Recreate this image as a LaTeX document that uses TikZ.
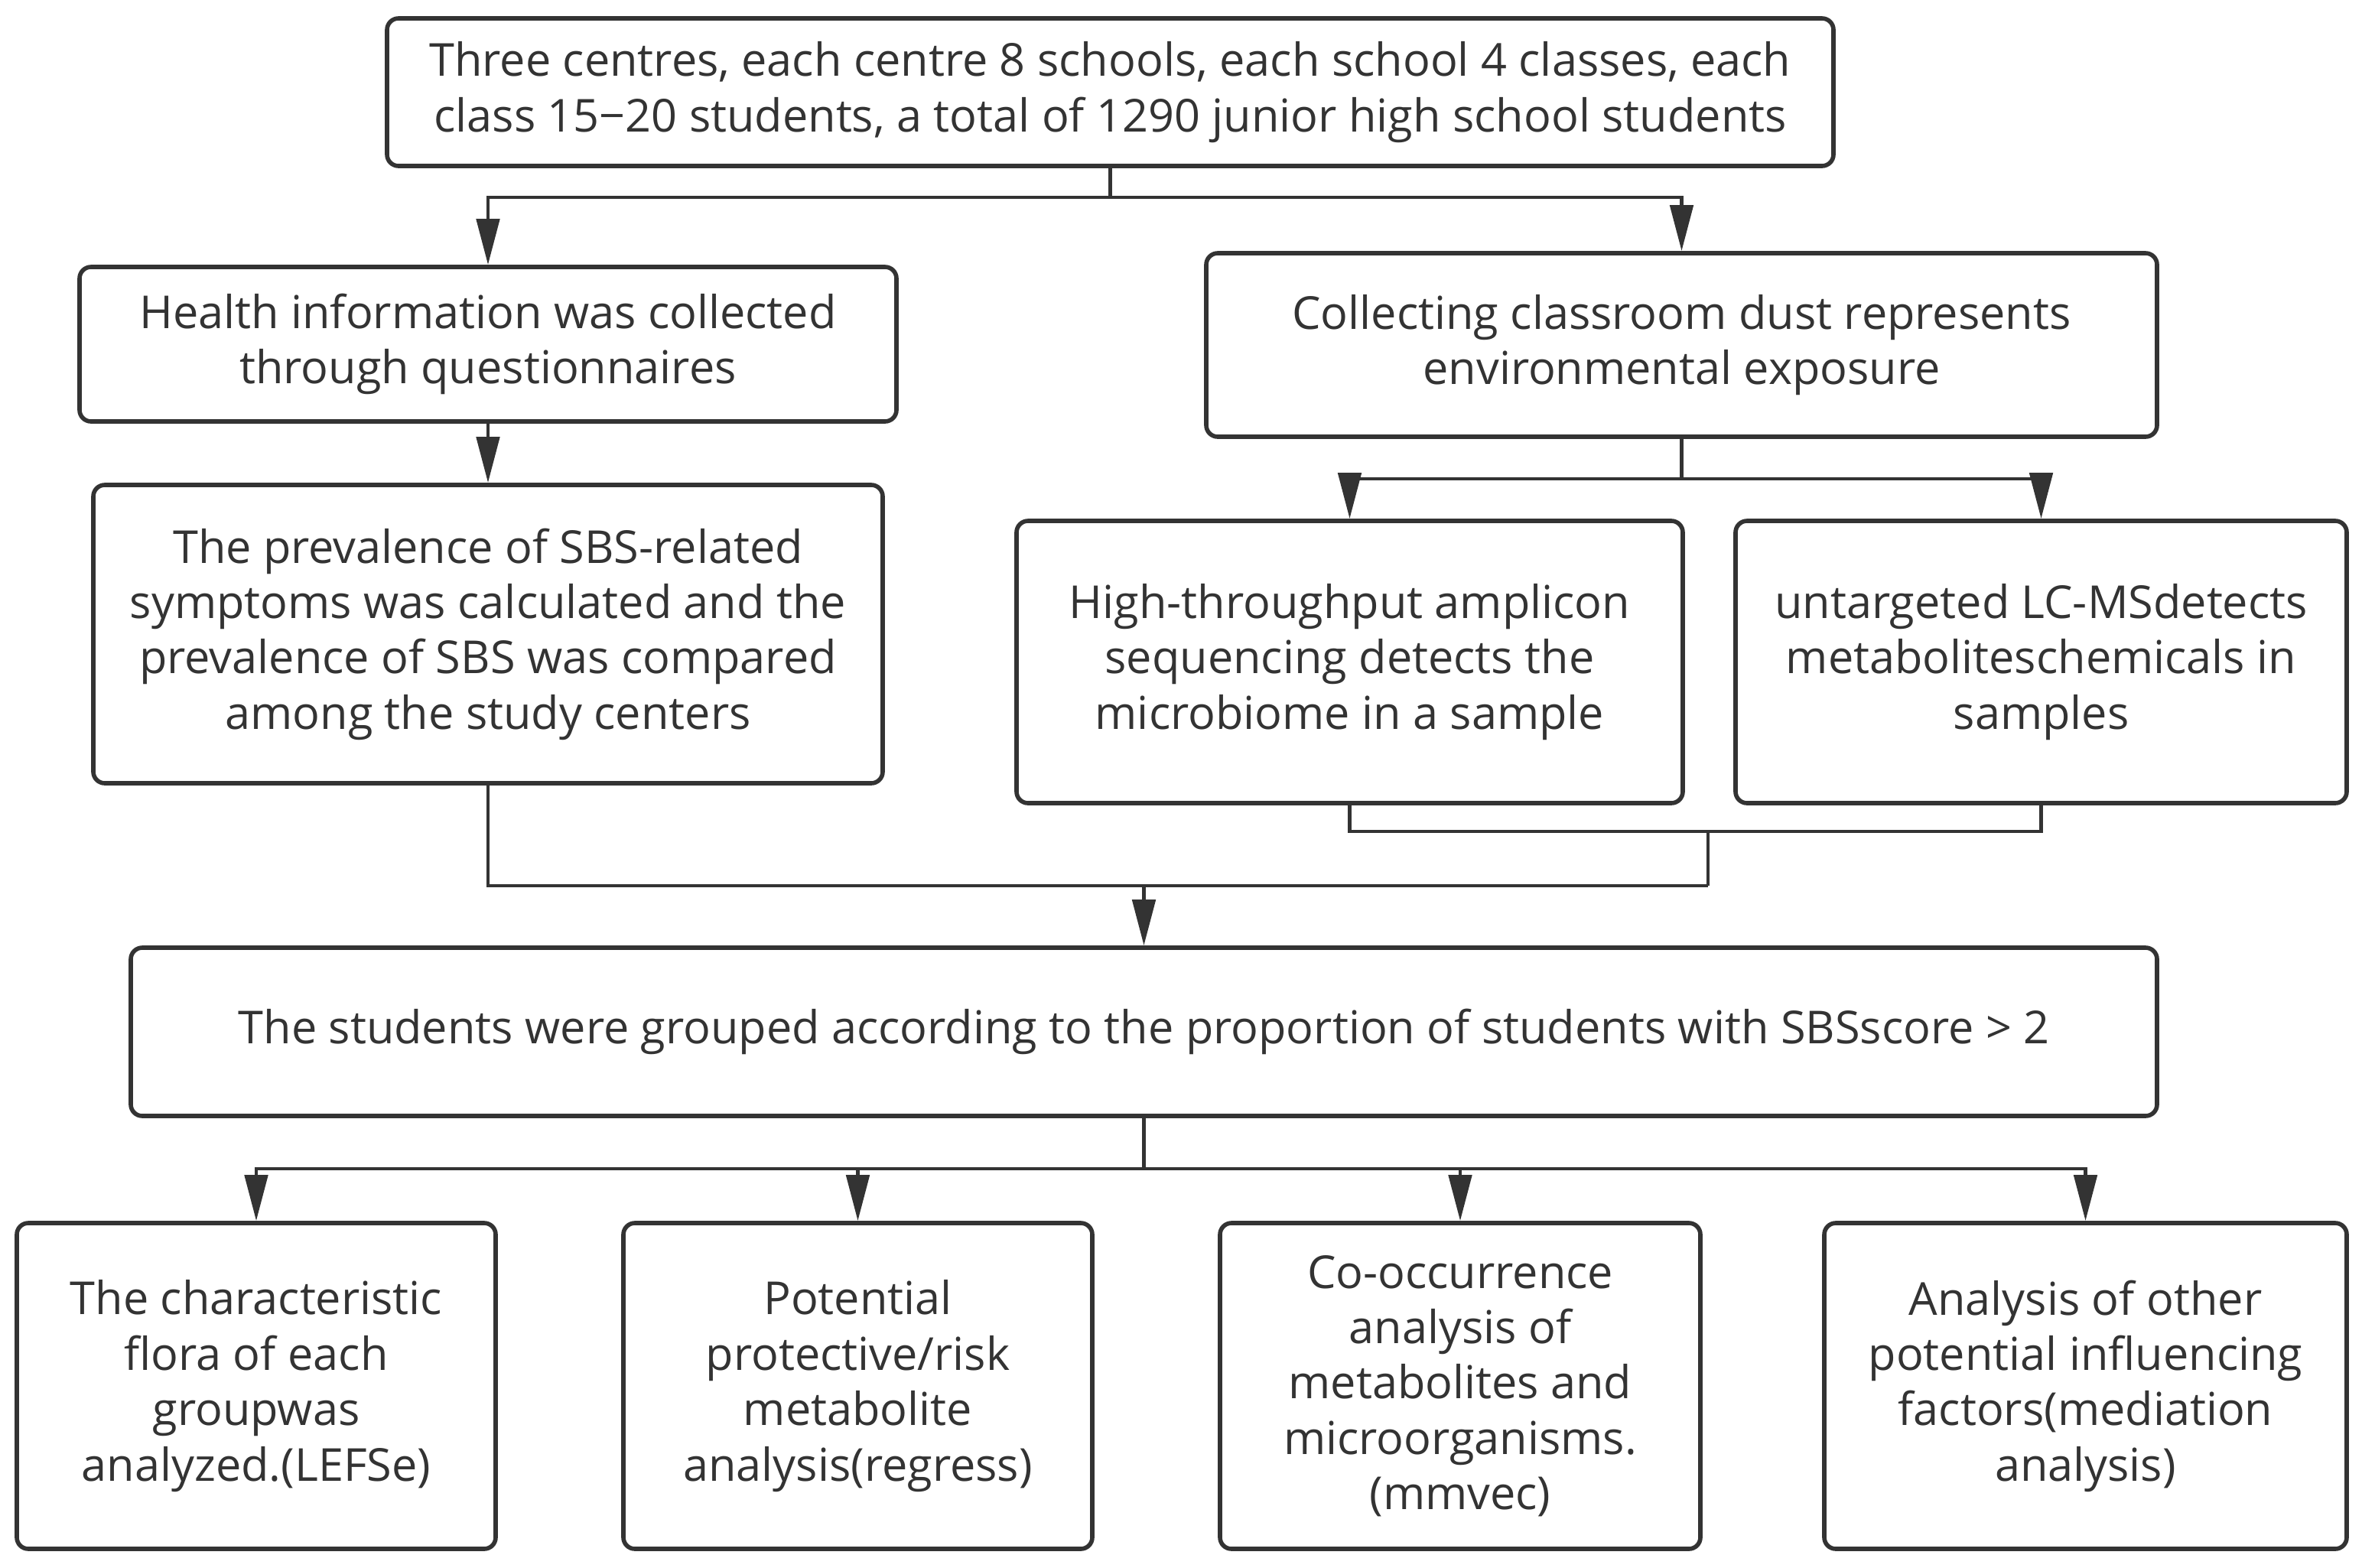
\documentclass[tikz,border=0pt]{standalone}
\usepackage{fontspec}
\setmainfont{Open Sans}
\usetikzlibrary{arrows.meta}
\definecolor{ink}{HTML}{333333}

\begin{document}
\begin{tikzpicture}[>={Triangle[length=0.6cm,width=0.3cm]},
  box/.style={draw=ink, line width=1.6pt, rounded corners=0.15cm, align=center,
    text=ink, inner sep=0pt, font=\fontsize{16.9}{20.6}\selectfont},
  link/.style={draw=ink, line width=1.4pt}]
  \useasboundingbox (0,0) rectangle (30.88,-20.49);

  % first row
  \node[box, minimum width=18.91cm, minimum height=1.93cm] (top) at (14.515,-1.205)
    {Three centres, each centre 8 schools, each school 4 classes, each\\
     class 15\char"2212 20 students, a total of 1290 junior high school students};
  \node[box, minimum width=10.68cm, minimum height=2.02cm] (health) at (6.38,-4.50)
    {Health information was collected\\through questionnaires};
  \node[box, minimum width=12.43cm, minimum height=2.40cm] (collect) at (21.985,-4.51)
    {Collecting classroom dust represents\\environmental exposure};

  % second row
  \node[box, minimum width=10.32cm, minimum height=3.90cm] (prev) at (6.38,-8.29)
    {The prevalence of SBS-related\\symptoms was calculated and the\\
     prevalence of SBS was compared\\among the study centers};
  \node[box, minimum width=8.71cm, minimum height=3.69cm] (high) at (17.645,-8.655)
    {High-throughput amplicon\\sequencing detects the\\microbiome in a sample};
  \node[box, minimum width=7.99cm, minimum height=3.69cm] (untar) at (26.685,-8.655)
    {untargeted LC-MSdetects\\metaboliteschemicals in\\samples};

  \node[box, minimum width=26.49cm, minimum height=2.20cm] (group) at (14.955,-13.49)
    {The students were grouped according to the proportion of students with SBSscore > 2};

  % bottom row
  \node[box, minimum width=6.26cm, minimum height=4.26cm] (b1) at (3.35,-18.12)
    {The characteristic\\flora of each\\groupwas\\analyzed.(LEFSe)};
  \node[box, minimum width=6.13cm, minimum height=4.26cm] (b2) at (11.215,-18.12)
    {Potential\\protective/risk\\metabolite\\analysis(regress)};
  \node[box, minimum width=6.28cm, minimum height=4.26cm] (b3) at (19.09,-18.12)
    {Co-occurrence\\analysis of\\metabolites and\\microorganisms.\\(mmvec)};
  \node[box, minimum width=6.83cm, minimum height=4.26cm] (b4) at (27.265,-18.12)
    {Analysis of other\\potential influencing\\factors(mediation\\analysis)};

  % connectors
  \coordinate (j1) at (14.515,-2.58);
  \draw[link] (top.south) -- (j1);
  \draw[link,->] (j1) -| (health.north);
  \draw[link,->] (j1) -| (collect.north);
  \draw[link,->] (health.south) -- (prev.north);

  \coordinate (j2) at (21.985,-6.26);
  \draw[link] (collect.south) -- (j2);
  \draw[link,->] (j2) -| (high.north);
  \draw[link,->] (j2) -| (untar.north);

  \coordinate (m1) at (22.33,-10.87);
  \coordinate (m2) at (22.33,-11.58);
  \draw[link] (high.south) |- (m1) -| (untar.south);
  \draw[link] (m1) -- (m2);
  \draw[link] (prev.south) |- (m2);
  \draw[link,->] (group.north |- m2) -- (group.north);

  \coordinate (j3) at (14.955,-15.28);
  \draw[link] (group.south) -- (j3);
  \foreach \n in {b1,b2,b3,b4}
    \draw[link,->] (j3) -| (\n.north);
\end{tikzpicture}
\end{document}
